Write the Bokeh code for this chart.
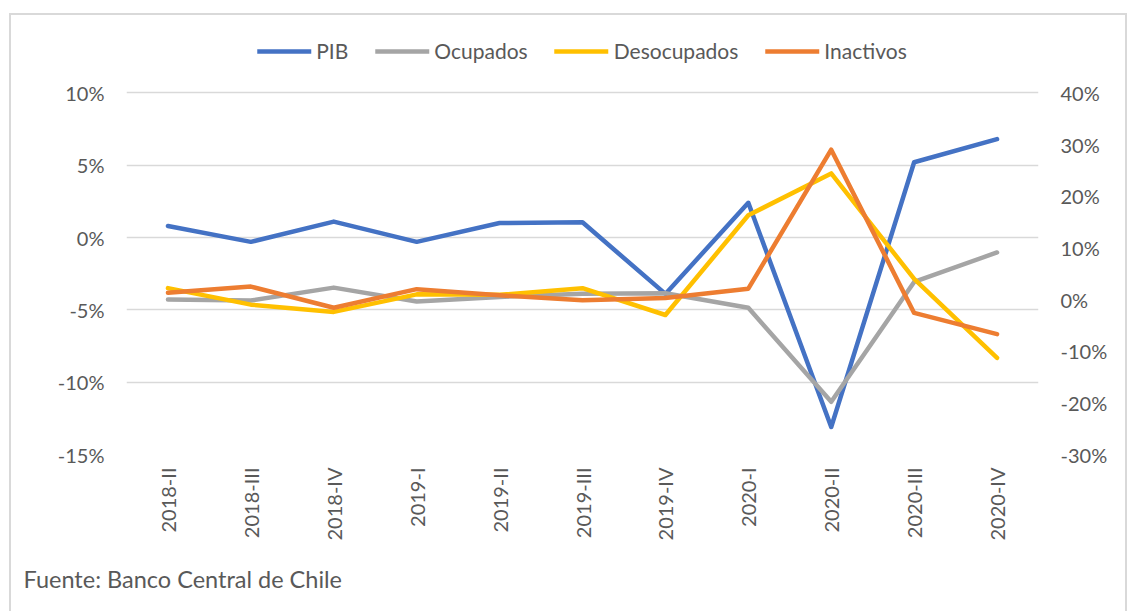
import math
from bokeh.plotting import figure
from bokeh.models import (Range1d, LinearAxis, FixedTicker, PrintfTickFormatter,
                          Legend, LegendItem, Title, FactorRange)
from bokeh.embed import file_html
from bokeh.resources import INLINE

# ---- data ----
quarters = ["2018-II", "2018-III", "2018-IV", "2019-I", "2019-II", "2019-III",
            "2019-IV", "2020-I", "2020-II", "2020-III", "2020-IV"]
pib = [0.8, -0.3, 1.1, -0.3, 1.0, 1.05, -3.9, 2.4, -13.1, 5.2, 6.8]          # left axis
ocupados = [0.0, -0.2, 2.3, -0.4, 0.5, 1.1, 1.2, -1.6, -19.8, 3.4, 9.1]     # right axis
desocupados = [2.2, -1.0, -2.4, 1.0, 0.9, 2.2, -3.0, 16.3, 24.4, 4.0, -11.3]
inactivos = [1.3, 2.5, -1.6, 2.0, 0.8, -0.15, 0.3, 2.1, 29.0, -2.6, -6.7]
left_ticks = [-15, -10, -5, 0, 5, 10]
right_ticks = [-30, -20, -10, 0, 10, 20, 30, 40]
source_text = "Fuente: Banco Central de Chile"

FONT = "Lato"
TXT = "#595959"

# left range extends above the 10% line to leave room for the legend
p = figure(width=1118, height=598, x_range=FactorRange(factors=quarters),
           y_range=Range1d(-15, 15), output_backend="svg", toolbar_location=None,
           min_border_left=115, min_border_right=91, min_border_top=5,
           min_border_bottom=159, margin=(13, 0, 0, 9))
p.styles = {"border-top": "2px solid #d9d9d9", "border-left": "2px solid #d9d9d9",
            "border-right": "2px solid #d9d9d9"}
p.extra_y_ranges = {"right": Range1d(-30, 54)}
p.outline_line_color = None
p.background_fill_color = "white"
p.border_fill_color = "white"

kw = dict(line_width=4.5, line_join="round", line_cap="round")
r1 = p.line(quarters, pib, color="#4472C4", **kw)
r2 = p.line(quarters, ocupados, color="#A5A5A5", y_range_name="right", **kw)
r3 = p.line(quarters, desocupados, color="#FFC000", y_range_name="right", **kw)
r4 = p.line(quarters, inactivos, color="#ED7D31", y_range_name="right", **kw)

# axes
p.yaxis.ticker = FixedTicker(ticks=left_ticks)
p.yaxis.formatter = PrintfTickFormatter(format="%d%%")
raxis = LinearAxis(y_range_name="right", ticker=FixedTicker(ticks=right_ticks),
                   formatter=PrintfTickFormatter(format="%d%%"))
p.add_layout(raxis, "right")

for ax in [p.yaxis[0], raxis, p.xaxis[0]]:
    ax.axis_line_color = None
    ax.major_tick_line_color = None
    ax.minor_tick_line_color = None
    ax.major_tick_out = 0
    ax.major_tick_in = 0
    ax.major_label_text_font = FONT
    ax.major_label_text_font_size = "20px"
    ax.major_label_text_color = TXT
p.yaxis[0].major_label_standoff = 22
raxis.major_label_standoff = 22
p.xaxis[0].major_label_standoff = 13
p.xaxis[0].major_label_orientation = math.pi / 2

p.xgrid.visible = False
p.ygrid.grid_line_color = "#d9d9d9"
p.ygrid.grid_line_width = 1.5

legend = Legend(items=[LegendItem(label="PIB", renderers=[r1]),
                       LegendItem(label="Ocupados", renderers=[r2]),
                       LegendItem(label="Desocupados", renderers=[r3]),
                       LegendItem(label="Inactivos", renderers=[r4])],
                orientation="horizontal", location="top_center",
                glyph_width=54, glyph_height=24, label_height=24,
                label_standoff=5, spacing=27,
                padding=0, margin=18, border_line_color=None,
                background_fill_alpha=0, label_text_font=FONT,
                label_text_font_size="21px", label_text_color=TXT)
p.add_layout(legend, "center")

p.add_layout(Title(text=source_text, align="left", offset=-103, standoff=38,
                   text_font=FONT, text_font_size="23.5px", text_font_style="normal",
                   text_color=TXT), "below")

open("out.html", "w").write(file_html(p, INLINE))
